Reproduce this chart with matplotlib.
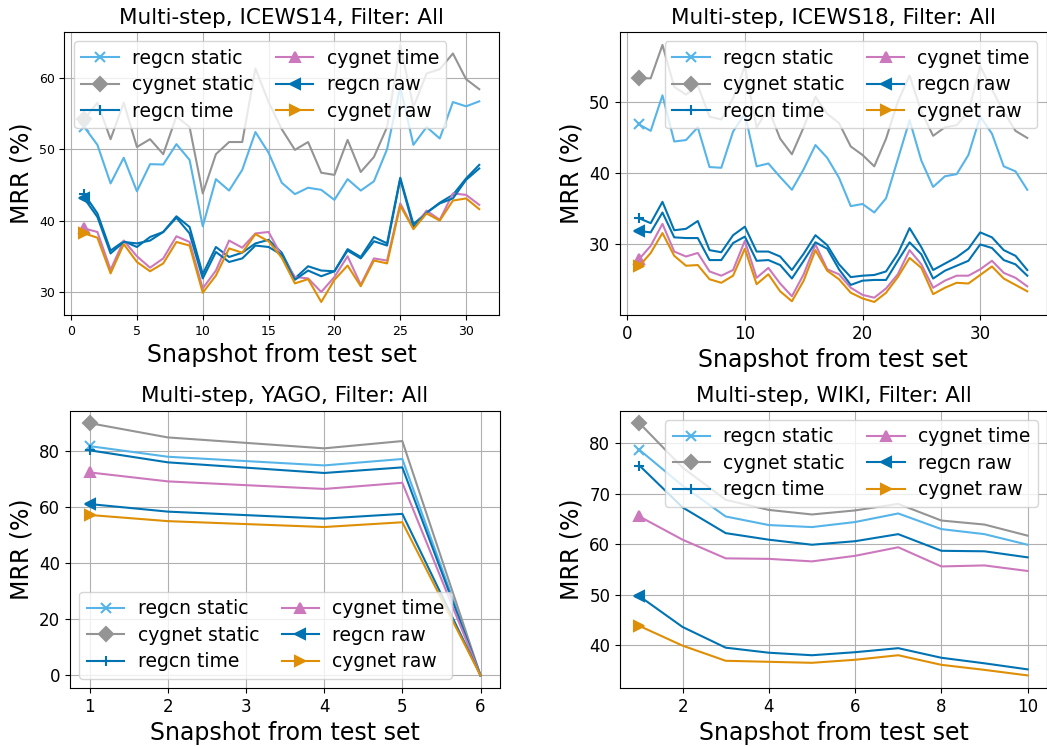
import matplotlib
matplotlib.use("Agg")
import matplotlib.pyplot as plt
from matplotlib.ticker import MultipleLocator

# series order: regcn static, cygnet static, regcn time, cygnet time, regcn raw, cygnet raw
labels = ["regcn static", "cygnet static", "regcn time", "cygnet time", "regcn raw", "cygnet raw"]
colors = ["#56B4E9", "#949494", "#0173B2", "#CC78BC", "#0173B2", "#DE8F05"]
markers = ["x", "D", "+", "^", "<", ">"]

# ICEWS14
x_icews14 = list(range(1, 32))
icews14_regcn_static = [53.1, 50.6, 45.2, 48.8, 44.1, 47.9, 47.85, 50.7, 48.5, 39.2, 45.8, 44.2, 47.1, 52.4, 49.5,
                        45.3, 43.7, 44.6, 44.3, 42.9, 45.8, 44.2, 45.5, 50.0, 58.7, 50.6, 53.1, 51.5, 56.6, 56.0, 56.7]
icews14_cygnet_static = [54.2, 56.5, 51.4, 56.5, 50.3, 51.4, 49.3, 54.6, 53.1, 43.8, 49.3, 51.0, 51.0, 61.3, 56.6,
                         52.8, 49.9, 51.0, 46.7, 46.4, 51.3, 46.8, 48.9, 53.1, 64.6, 55.9, 60.6, 61.2, 63.4, 59.8, 58.4]
icews14_regcn_time = [43.7, 41.0, 35.8, 37.1, 36.3, 37.7, 38.4, 40.6, 39.1, 32.5, 36.3, 34.9, 35.5, 36.8, 37.3,
                      35.5, 31.9, 33.6, 33.0, 32.9, 36.0, 34.9, 37.7, 36.8, 46.0, 39.5, 41.1, 42.5, 43.6, 45.9, 47.8]
icews14_cygnet_time = [38.9, 38.4, 33.1, 37.2, 35.0, 33.4, 34.7, 37.8, 37.0, 30.5, 33.0, 37.2, 36.2, 38.2, 38.4,
                       35.0, 32.1, 31.9, 30.0, 32.1, 35.0, 31.0, 34.7, 34.4, 42.4, 38.9, 41.4, 40.1, 43.8, 43.6, 42.2]
icews14_regcn_raw = [43.1, 40.5, 35.4, 37.0, 36.8, 37.2, 38.4, 40.4, 38.2, 31.9, 35.6, 34.2, 34.7, 36.5, 36.3,
                     35.2, 31.7, 33.0, 32.2, 32.9, 35.8, 34.7, 37.1, 36.5, 45.8, 39.1, 41.1, 42.4, 43.1, 45.7, 47.3]
icews14_cygnet_raw = [38.2, 37.6, 32.6, 36.7, 34.2, 32.9, 34.0, 37.0, 36.5, 29.9, 32.3, 36.1, 35.5, 38.1, 37.1,
                      34.8, 31.2, 31.8, 28.6, 31.7, 33.7, 30.8, 34.4, 34.0, 42.1, 38.8, 41.0, 40.0, 42.8, 43.1, 41.6]

# ICEWS18
x_icews18 = list(range(1, 35))
icews18_regcn_static = [46.9, 46.0, 51.0, 44.5, 44.7, 46.5, 40.9, 40.8, 45.9, 48.4, 41.0, 41.4, 39.5, 37.7, 40.6, 44.0, 42.2,
                        39.4, 35.4, 35.7, 34.5, 36.5, 42.0, 47.5, 41.8, 38.1, 39.6, 39.9, 42.6, 48.0, 45.6, 41.0, 40.3, 37.7]
icews18_cygnet_static = [53.4, 53.4, 58.1, 52.2, 51.1, 52.4, 48.0, 47.6, 50.6, 55.1, 46.5, 49.1, 44.9, 42.7, 46.5, 50.8, 48.4,
                         47.1, 43.8, 42.6, 41.0, 44.9, 50.1, 53.8, 48.7, 45.3, 46.5, 46.8, 48.7, 55.1, 51.8, 48.7, 46.0, 45.0]
icews18_regcn_time = [33.7, 33.0, 36.0, 32.0, 32.2, 33.3, 29.2, 28.9, 31.3, 32.5, 29.0, 29.0, 28.3, 26.4, 28.7, 31.3, 29.9,
                      27.2, 25.4, 25.6, 25.7, 26.2, 28.7, 32.3, 29.6, 26.4, 27.3, 28.2, 29.4, 31.7, 31.0, 29.2, 28.4, 26.4]
icews18_cygnet_time = [27.9, 29.8, 32.9, 29.0, 28.3, 28.8, 26.2, 25.6, 26.4, 30.5, 25.3, 26.7, 24.5, 22.7, 25.8, 30.0, 26.5,
                       25.8, 23.9, 22.9, 22.5, 23.8, 25.8, 29.2, 27.2, 23.9, 24.9, 25.6, 25.6, 26.5, 27.7, 26.0, 25.3, 24.1]
icews18_regcn_raw = [31.9, 31.7, 34.5, 31.0, 30.9, 30.9, 27.8, 27.8, 30.2, 31.1, 27.7, 27.8, 27.1, 25.2, 27.7, 30.3, 29.4,
                     26.5, 24.3, 24.9, 25.0, 25.0, 27.7, 30.3, 28.6, 25.2, 26.3, 27.0, 27.7, 30.0, 29.5, 27.8, 27.2, 25.6]
icews18_cygnet_raw = [26.9, 28.8, 31.6, 28.4, 27.0, 27.1, 25.1, 24.6, 25.6, 29.4, 24.4, 25.8, 23.4, 22.0, 24.9, 29.2, 26.3,
                      25.1, 23.2, 22.4, 21.9, 23.2, 25.4, 28.1, 26.7, 23.0, 23.9, 24.6, 24.5, 25.7, 26.9, 25.2, 24.3, 23.4]

# YAGO
x_yago = [1, 2, 4, 5, 6]
yago_regcn_static = [81.9, 78.1, 75.0, 77.3, 0.0]
yago_cygnet_static = [90.1, 85.0, 81.1, 83.7, 0.0]
yago_regcn_time = [80.4, 76.1, 72.3, 74.3, 0.0]
yago_cygnet_time = [72.5, 69.3, 66.6, 68.8, 0.0]
yago_regcn_raw = [61.2, 58.5, 56.0, 57.7, 0.0]
yago_cygnet_raw = [57.3, 55.1, 53.0, 54.7, 0.0]

# WIKI
x_wiki = list(range(1, 11))
wiki_regcn_static = [78.7, 71.6, 65.5, 63.8, 63.4, 64.4, 66.1, 63.0, 62.0, 59.9]
wiki_cygnet_static = [84.0, 75.2, 68.8, 66.8, 65.9, 66.7, 68.0, 64.7, 63.9, 61.7]
wiki_regcn_time = [75.6, 67.3, 62.2, 60.9, 59.9, 60.6, 62.0, 58.7, 58.6, 57.4]
wiki_cygnet_time = [65.5, 60.9, 57.2, 57.1, 56.6, 57.7, 59.4, 55.6, 55.8, 54.7]
wiki_regcn_raw = [49.7, 43.6, 39.5, 38.5, 38.0, 38.6, 39.4, 37.5, 36.4, 35.2]
wiki_cygnet_raw = [43.8, 39.9, 36.9, 36.7, 36.5, 37.1, 38.0, 36.1, 35.1, 34.0]

# (title, x, series, legend loc, tick fontsize, x tick step, y tick step)
panels = [
    ("Multi-step, ICEWS14, Filter: All", x_icews14,
     [icews14_regcn_static, icews14_cygnet_static, icews14_regcn_time,
      icews14_cygnet_time, icews14_regcn_raw, icews14_cygnet_raw], "upper left", 9, 5, 10),
    ("Multi-step, ICEWS18, Filter: All", x_icews18,
     [icews18_regcn_static, icews18_cygnet_static, icews18_regcn_time,
      icews18_cygnet_time, icews18_regcn_raw, icews18_cygnet_raw], "upper right", 12, 10, 10),
    ("Multi-step, YAGO, Filter: All", x_yago,
     [yago_regcn_static, yago_cygnet_static, yago_regcn_time,
      yago_cygnet_time, yago_regcn_raw, yago_cygnet_raw], "lower left", 12, None, None),
    ("Multi-step, WIKI, Filter: All", x_wiki,
     [wiki_regcn_static, wiki_cygnet_static, wiki_regcn_time,
      wiki_cygnet_time, wiki_regcn_raw, wiki_cygnet_raw], "upper right", 12, None, None),
]

# axes boxes in figure fractions [left, bottom, width, height]
boxes = [
    [0.0616, 0.578, 0.415, 0.379],
    [0.5917, 0.578, 0.408, 0.379],
    [0.0669, 0.0777, 0.4107, 0.372],
    [0.5922, 0.0777, 0.4078, 0.372],
]

fig, axes = plt.subplots(2, 2, figsize=(10.47, 7.46), dpi=100)

for ax, box, (title, xs, series, loc, tick_fs, xstep, ystep) in zip(axes.ravel(), boxes, panels):
    ax.set_position(box)
    for ys, lbl, c, m in zip(series, labels, colors, markers):
        ms = 7 if m == "D" else 6.5
        ax.plot(xs, ys, color=c, marker=m, markevery=[0], markersize=ms,
                markeredgewidth=1.5, linewidth=1.5, label=lbl)
    ax.set_title(title, fontsize=15.5)
    ax.set_xlabel("Snapshot from test set", fontsize=17)
    ax.set_ylabel("MRR (%)", fontsize=17)
    ax.tick_params(labelsize=tick_fs)
    if xstep:
        ax.xaxis.set_major_locator(MultipleLocator(xstep))
    if ystep:
        ax.yaxis.set_major_locator(MultipleLocator(ystep))
    ax.grid(True)
    ax.legend(loc=loc, ncol=2, fontsize=13.5, columnspacing=1.2,
              handletextpad=0.7, labelspacing=0.4)

fig.savefig("out.png", dpi=100)
